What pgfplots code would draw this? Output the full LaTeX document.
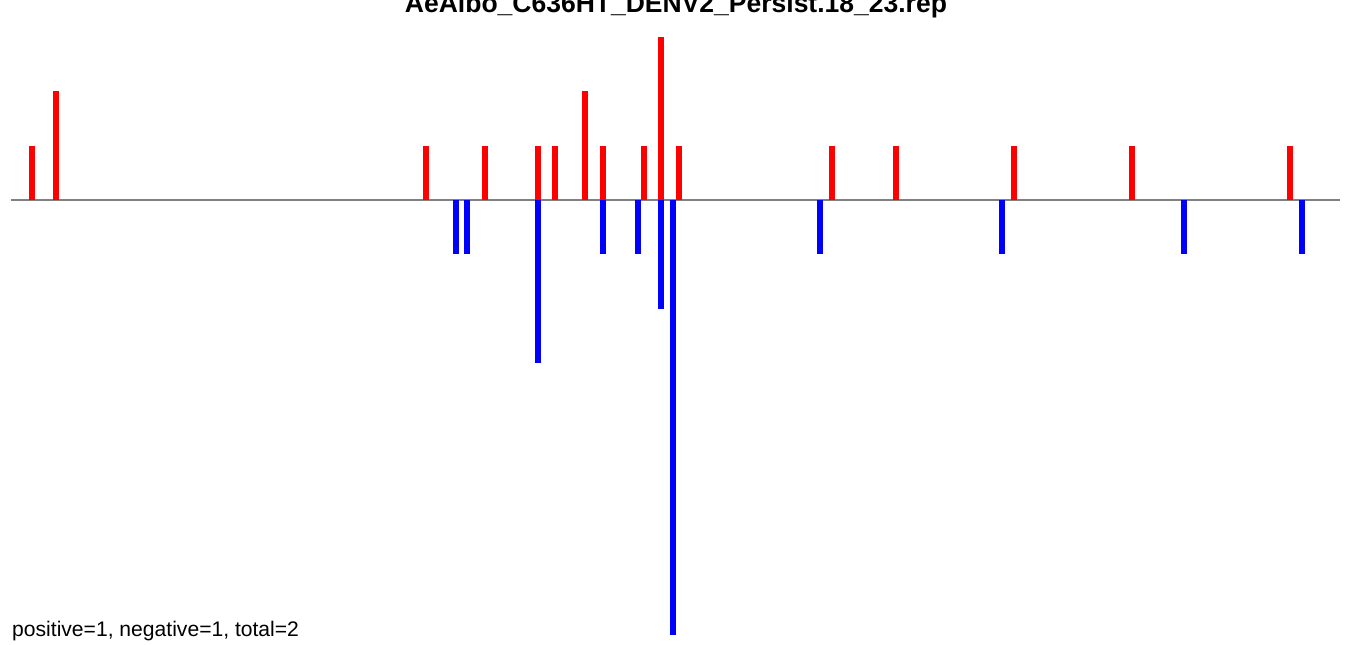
\documentclass[border=0pt]{standalone}
\usepackage{fontspec}
\setmainfont{Liberation Sans}
\usepackage{pgfplots}
\pgfplotsset{compat=1.18}
\begin{document}
\begin{tikzpicture}
\begin{axis}[
  scale only axis, width=1352bp, height=645bp,
  xmin=0, xmax=1352, ymin=-8.1906, ymax=3.6812,
  hide axis, clip=false,
]
\addplot[color={rgb,255:red,128;green,128;blue,128}, line width=1.4bp] coordinates {(11,0) (1340,0)};
\addplot[ycomb, color=red, line width=6bp, line cap=butt, mark=none] coordinates {
(32,1) (56,2) (426,1) (485,1) (538,1) (555,1) (585,2) (603,1) (644,1) (661,3) (679,1) (832,1) (896,1) (1014,1) (1132,1) (1290,1)};
\addplot[ycomb, color=blue, line width=6bp, line cap=butt, mark=none] coordinates {
(456,-1) (467,-1) (538,-3) (603,-1) (638,-1) (661,-2) (673,-8) (820,-1) (1002,-1) (1184,-1) (1302,-1)};
\node[anchor=base, font=\fontsize{26.5bp}{30bp}\selectfont\bfseries, inner sep=0pt] at (axis cs:676,3.460) {AeAlbo\_C636HT\_DENV2\_Persist.18\_23.rep};
\node[anchor=base west, font=\fontsize{21.1bp}{25bp}\selectfont, inner sep=0pt] at (axis cs:12,-8.025) {positive=1, negative=1, total=2};
\end{axis}
\pgfresetboundingbox
\path (0,0) rectangle (1352bp,645bp);
\end{tikzpicture}
\end{document}
